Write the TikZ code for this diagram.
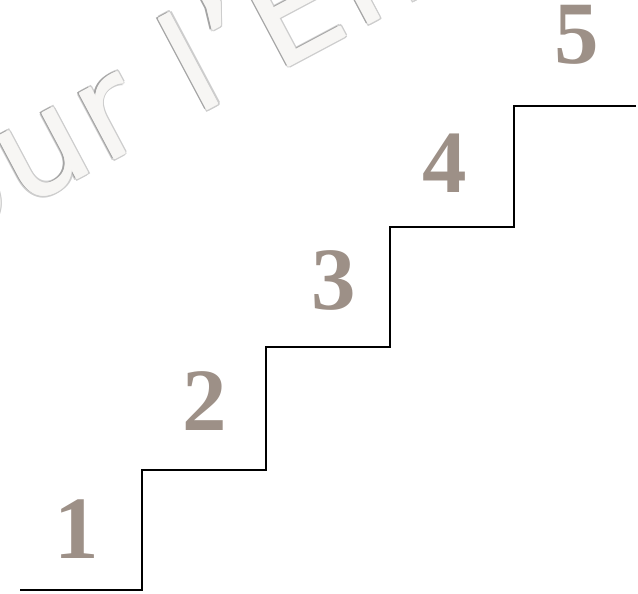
\documentclass[tikz,border=0pt]{standalone}
\usepackage{fontspec}
\usetikzlibrary{calc}
\setmainfont{Liberation Serif}
\newfontfamily\wmfont[LetterSpace=4]{DejaVu Sans}
\definecolor{numgray}{HTML}{9D9087}
\definecolor{wmfill}{HTML}{F7F6F4}
\definecolor{wmedge}{HTML}{CDCDCD}
\definecolor{wmdark}{HTML}{A4A4A4}
\newlength\wmw
\newcommand\wmfontsel{\wmfont\fontsize{136}{136}\selectfont}
\begin{document}
\settowidth\wmw{\wmfontsel Pour }
\begin{tikzpicture}[x=1pt,y=-1pt,
  num/.style={font=\fontsize{89}{89}\selectfont\bfseries, text=numgray, anchor=base, inner sep=0pt},
  stair/.style={line width=2pt, black},
  wm/.style={font=\wmfontsel, rotate=28, anchor=base west, inner sep=0pt}]
\useasboundingbox (0,0) rectangle (638,594);
\coordinate (wmbase) at ($(196,116)+(208:\wmw)$);
\begin{scope}
\clip (0,0) rectangle (638,594);
\foreach \dx/\dy in {2.2/0,-2.2/0,0/2.2,0/-2.2,1.6/1.6,-1.6/1.6,1.6/-1.6,-1.6/-1.6}
  \node[wm, text=wmedge, xshift=\dx pt, yshift=\dy pt] at (wmbase) {Pour l’En};
\node[wm, text=wmdark, xshift=-2pt, yshift=1.6pt] at (wmbase) {Pour l’En};
\foreach \dx/\dy in {0.8/0,-0.8/0,0/0.8,0/-0.8}
  \node[wm, text=wmfill, xshift=\dx pt, yshift=\dy pt] at (wmbase) {Pour l’En};
\node[wm, text=wmfill] (wm) at (wmbase) {Pour l’En};
\end{scope}
% stairs
\coordinate (s0) at (20,590);
\coordinate (s1) at (141.5,590);
\coordinate (s2) at (141.5,470);
\coordinate (s3) at (265.5,470);
\coordinate (s4) at (265.5,347);
\coordinate (s5) at (389.5,347);
\coordinate (s6) at (389.5,227);
\coordinate (s7) at (514,227);
\coordinate (s8) at (514,106);
\coordinate (s9) at (636,106);
\draw[stair] (s0) -- (s1) -- (s2) -- (s3) -- (s4) -- (s5) -- (s6) -- (s7) -- (s8) -- (s9);
% numbers
\node[num] (n1) at (77,558) {1};
\node[num] (n2) at (205,430) {2};
\node[num] (n3) at (334,309) {3};
\node[num] (n4) at (445,192) {4};
\node[num] (n5) at (577,64) {5};
\end{tikzpicture}
\end{document}
